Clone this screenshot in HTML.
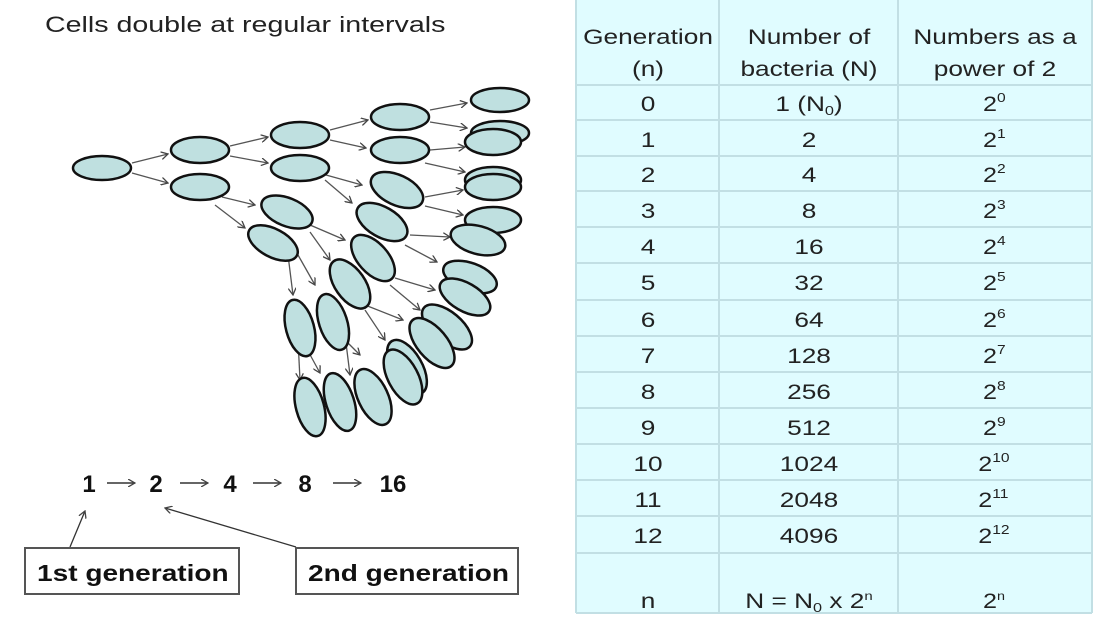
<!DOCTYPE html>
<html><head><meta charset="utf-8"><style>
body{margin:0;width:1096px;height:630px;background:#fff;overflow:hidden;font-family:"Liberation Sans",Arial,sans-serif;}
</style></head><body>
<svg width="1096" height="630" xmlns="http://www.w3.org/2000/svg" style="position:absolute;left:0;top:0">
<defs><marker id="ah" markerWidth="8" markerHeight="8" refX="7" refY="4" orient="auto" markerUnits="userSpaceOnUse"><path d="M0,0 L7,4 L0,8" fill="none" stroke="#444" stroke-width="1.3"/></marker></defs>
<g transform="translate(45,32) scale(1.3,1)"><text x="0" y="0" font-size="22" fill="#222">Cells double at regular intervals</text></g>
<!-- table -->
<rect x="576" y="0" width="516" height="613" fill="#e0fcff"/>
<g stroke="#c2dfe4" stroke-width="2">
<line x1="719" y1="0" x2="719" y2="613"/><line x1="898" y1="0" x2="898" y2="613"/>
<line x1="1092" y1="0" x2="1092" y2="613"/><line x1="576" y1="0" x2="576" y2="613"/>
<line x1="576" y1="613" x2="1092" y2="613"/>
<line x1="576" y1="85" x2="1092" y2="85"/><line x1="576" y1="120" x2="1092" y2="120"/>
<line x1="576" y1="156" x2="1092" y2="156"/><line x1="576" y1="191" x2="1092" y2="191"/>
<line x1="576" y1="227" x2="1092" y2="227"/><line x1="576" y1="263" x2="1092" y2="263"/>
<line x1="576" y1="300" x2="1092" y2="300"/><line x1="576" y1="336" x2="1092" y2="336"/>
<line x1="576" y1="372" x2="1092" y2="372"/><line x1="576" y1="408" x2="1092" y2="408"/>
<line x1="576" y1="444" x2="1092" y2="444"/><line x1="576" y1="480" x2="1092" y2="480"/>
<line x1="576" y1="516" x2="1092" y2="516"/><line x1="576" y1="553" x2="1092" y2="553"/>
</g>
<g font-size="21" fill="#222" text-anchor="middle">
<g transform="translate(648,0) scale(1.25,1)">
<text x="0" y="44">Generation</text><text x="0" y="76">(n)</text>
<text x="0" y="111">0</text><text x="0" y="147">1</text><text x="0" y="182">2</text><text x="0" y="218">3</text>
<text x="0" y="254">4</text><text x="0" y="290">5</text><text x="0" y="327">6</text><text x="0" y="363">7</text>
<text x="0" y="399">8</text><text x="0" y="435">9</text><text x="0" y="471">10</text><text x="0" y="507">11</text>
<text x="0" y="543">12</text><text x="0" y="608">n</text>
</g>
<g transform="translate(809,0) scale(1.25,1)">
<text x="0" y="44">Number of</text><text x="0" y="76">bacteria (N)</text>
<text x="0" y="111">1 (N<tspan font-size="13" dy="4">0</tspan><tspan dy="-4">)</tspan></text>
<text x="0" y="147">2</text><text x="0" y="182">4</text><text x="0" y="218">8</text>
<text x="0" y="254">16</text><text x="0" y="290">32</text><text x="0" y="327">64</text><text x="0" y="363">128</text>
<text x="0" y="399">256</text><text x="0" y="435">512</text><text x="0" y="471">1024</text><text x="0" y="507">2048</text>
<text x="0" y="543">4096</text>
<text x="0" y="608">N = N<tspan font-size="13" dy="4">0</tspan><tspan dy="-4"> x 2</tspan><tspan font-size="12" dy="-8">n</tspan></text>
</g>
<g transform="translate(995,0) scale(1.25,1)">
<text x="0" y="44">Numbers as a</text><text x="0" y="76">power of 2</text>
</g>
</g>
<g font-size="21" fill="#222">
<g transform="translate(983,0) scale(1.2,1)">
<text x="0" y="111">2<tspan font-size="13" dy="-9">0</tspan></text>
<text x="0" y="147">2<tspan font-size="13" dy="-9">1</tspan></text>
<text x="0" y="182">2<tspan font-size="13" dy="-9">2</tspan></text>
<text x="0" y="218">2<tspan font-size="13" dy="-9">3</tspan></text>
<text x="0" y="254">2<tspan font-size="13" dy="-9">4</tspan></text>
<text x="0" y="290">2<tspan font-size="13" dy="-9">5</tspan></text>
<text x="0" y="327">2<tspan font-size="13" dy="-9">6</tspan></text>
<text x="0" y="363">2<tspan font-size="13" dy="-9">7</tspan></text>
<text x="0" y="399">2<tspan font-size="13" dy="-9">8</tspan></text>
<text x="0" y="435">2<tspan font-size="13" dy="-9">9</tspan></text>
<text x="-4" y="471">2<tspan font-size="13" dy="-9">10</tspan></text>
<text x="-4" y="507">2<tspan font-size="13" dy="-9">11</tspan></text>
<text x="-4" y="543">2<tspan font-size="13" dy="-9">12</tspan></text>
<text x="0" y="608">2<tspan font-size="12" dy="-8">n</tspan></text>
</g>
</g>
<!-- arrows -->
<g stroke="#555" stroke-width="1.3" fill="none" marker-end="url(#ah)">
<line x1="132" y1="163" x2="168" y2="154"/><line x1="132" y1="173" x2="168" y2="183"/>
<line x1="230" y1="146" x2="268" y2="137"/><line x1="230" y1="156" x2="268" y2="163"/>
<line x1="222" y1="197" x2="255" y2="205"/><line x1="215" y1="205" x2="245" y2="228"/>
<line x1="330" y1="130" x2="368" y2="120"/><line x1="330" y1="140" x2="366" y2="148"/>
<line x1="326" y1="175" x2="362" y2="185"/><line x1="325" y1="180" x2="352" y2="203"/>
<line x1="310" y1="225" x2="345" y2="240"/><line x1="310" y1="232" x2="330" y2="260"/>
<line x1="288" y1="255" x2="293" y2="295"/><line x1="298" y1="255" x2="315" y2="285"/>
<line x1="430" y1="110" x2="467" y2="103"/><line x1="430" y1="122" x2="467" y2="128"/>
<line x1="430" y1="150" x2="465" y2="147"/><line x1="425" y1="163" x2="465" y2="172"/>
<line x1="425" y1="197" x2="463" y2="190"/><line x1="425" y1="206" x2="463" y2="215"/>
<line x1="410" y1="235" x2="450" y2="237"/><line x1="405" y1="245" x2="437" y2="262"/>
<line x1="395" y1="278" x2="435" y2="290"/><line x1="390" y1="285" x2="420" y2="310"/>
<line x1="365" y1="305" x2="403" y2="320"/><line x1="365" y1="310" x2="385" y2="340"/>
<line x1="340" y1="335" x2="360" y2="355"/><line x1="345" y1="335" x2="350" y2="375"/>
<line x1="302" y1="340" x2="320" y2="373"/><line x1="298" y1="340" x2="300" y2="380"/>
</g>
<!-- cells -->
<g fill="#bfe0e0" stroke="#111" stroke-width="2.5">
<ellipse cx="102" cy="168" rx="29" ry="12"/>
<ellipse cx="200" cy="150" rx="29" ry="13"/><ellipse cx="200" cy="187" rx="29" ry="13"/>
<ellipse cx="300" cy="135" rx="29" ry="13"/><ellipse cx="300" cy="168" rx="29" ry="13"/>
<ellipse cx="287" cy="212" rx="27" ry="14" transform="rotate(22 287 212)"/>
<ellipse cx="273" cy="243" rx="27" ry="14" transform="rotate(28 273 243)"/>
<ellipse cx="400" cy="117" rx="29" ry="13"/><ellipse cx="400" cy="150" rx="29" ry="13"/>
<ellipse cx="397" cy="190" rx="28" ry="15" transform="rotate(25 397 190)"/>
<ellipse cx="382" cy="222" rx="28" ry="15" transform="rotate(30 382 222)"/>
<ellipse cx="373" cy="258" rx="28" ry="15" transform="rotate(48 373 258)"/>
<ellipse cx="350" cy="284" rx="28" ry="15" transform="rotate(55 350 284)"/>
<ellipse cx="333" cy="322" rx="29" ry="14" transform="rotate(72 333 322)"/>
<ellipse cx="300" cy="328" rx="29" ry="14" transform="rotate(75 300 328)"/>
<ellipse cx="500" cy="100" rx="29" ry="12"/>
<ellipse cx="500" cy="133" rx="29" ry="12"/><ellipse cx="493" cy="142" rx="28" ry="13"/>
<ellipse cx="493" cy="180" rx="28" ry="13"/><ellipse cx="493" cy="187" rx="28" ry="13"/>
<ellipse cx="493" cy="220" rx="28" ry="13"/>
<ellipse cx="478" cy="240" rx="28" ry="14" transform="rotate(15 478 240)"/>
<ellipse cx="470" cy="277" rx="28" ry="14" transform="rotate(20 470 277)"/>
<ellipse cx="465" cy="297" rx="28" ry="14" transform="rotate(30 465 297)"/>
<ellipse cx="447" cy="327" rx="30" ry="15" transform="rotate(40 447 327)"/>
<ellipse cx="432" cy="343" rx="30" ry="15" transform="rotate(50 432 343)"/>
<ellipse cx="407" cy="367" rx="30" ry="15" transform="rotate(60 407 367)"/>
<ellipse cx="403" cy="377" rx="30" ry="15" transform="rotate(62 403 377)"/>
<ellipse cx="373" cy="397" rx="30" ry="15" transform="rotate(65 373 397)"/>
<ellipse cx="340" cy="402" rx="30" ry="14" transform="rotate(72 340 402)"/>
<ellipse cx="310" cy="407" rx="30" ry="14" transform="rotate(75 310 407)"/>
</g>
<!-- sequence -->
<g font-size="24" font-weight="bold" fill="#111" text-anchor="middle">
<text x="89" y="492">1</text><text x="156" y="492">2</text><text x="230" y="492">4</text><text x="305" y="492">8</text><text x="393" y="492">16</text>
</g>
<g stroke="#333" stroke-width="1.5" marker-end="url(#ah)">
<line x1="107" y1="483" x2="135" y2="483"/><line x1="180" y1="483" x2="208" y2="483"/>
<line x1="253" y1="483" x2="281" y2="483"/><line x1="333" y1="483" x2="361" y2="483"/>
</g>
<line x1="70" y1="547" x2="85" y2="511" stroke="#333" stroke-width="1.3" marker-end="url(#ah)"/>
<line x1="296" y1="547" x2="165" y2="508" stroke="#333" stroke-width="1.3" marker-end="url(#ah)"/>
<rect x="25" y="548" width="214" height="46" fill="#fff" stroke="#555" stroke-width="2"/>
<rect x="296" y="548" width="222" height="46" fill="#fff" stroke="#555" stroke-width="2"/>
<g font-size="23" font-weight="bold" fill="#111">
<g transform="translate(37,581) scale(1.22,1)"><text x="0" y="0">1st generation</text></g>
<g transform="translate(308,581) scale(1.22,1)"><text x="0" y="0">2nd generation</text></g>
</g>
</svg>
</body></html>
